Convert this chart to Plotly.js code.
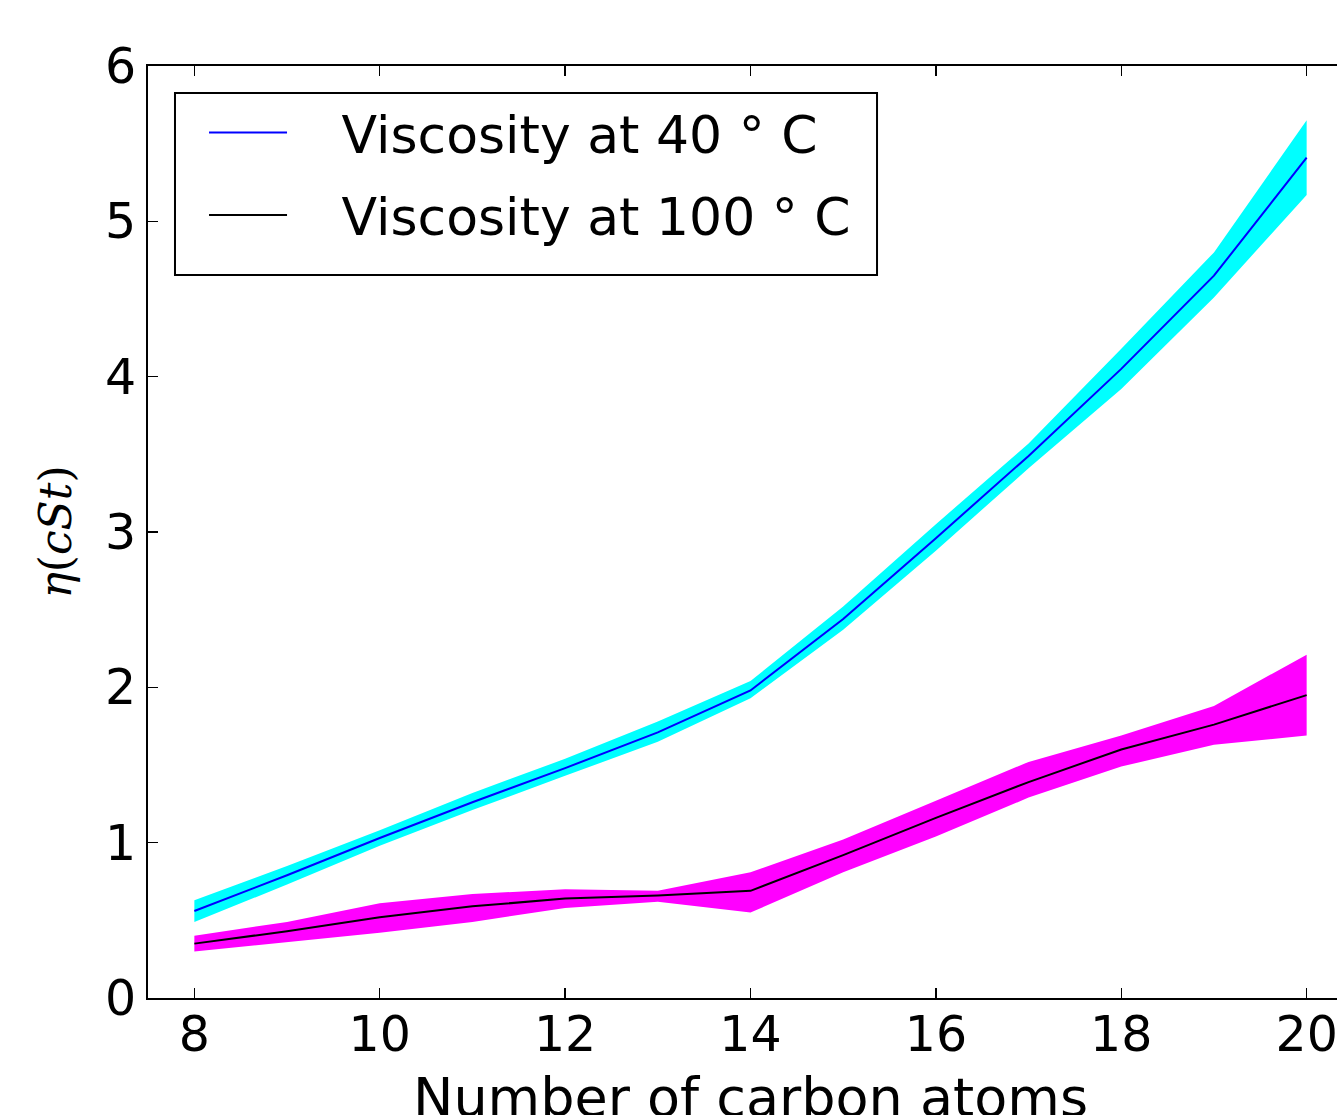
<!DOCTYPE html>
<html>
<head>
<meta charset="utf-8">
<script src="https://cdn.plot.ly/plotly-3.0.1.min.js"></script>
<style>
html,body{margin:0;padding:0;overflow:hidden;background:#fff;width:1337px;height:1115px;}
#chart{width:1400px;height:1150px;}
</style>
</head>
<body>
<div id="chart"></div>
<script>
// Data
const carbonAtoms = [8, 9, 10, 11, 12, 13, 14, 15, 16, 17, 18, 19, 20];
const visc40 = [0.56, 0.79, 1.03, 1.26, 1.48, 1.71, 1.98, 2.44, 2.96, 3.49, 4.05, 4.65, 5.41];
const visc40Upper = [0.63, 0.85, 1.08, 1.32, 1.54, 1.78, 2.04, 2.52, 3.05, 3.57, 4.18, 4.80, 5.65];
const visc40Lower = [0.49, 0.73, 0.98, 1.21, 1.43, 1.65, 1.93, 2.37, 2.88, 3.41, 3.92, 4.51, 5.17];
const visc100 = [0.35, 0.43, 0.52, 0.59, 0.64, 0.66, 0.69, 0.92, 1.16, 1.39, 1.60, 1.76, 1.95];
const visc100Upper = [0.40, 0.49, 0.61, 0.67, 0.70, 0.69, 0.81, 1.02, 1.27, 1.52, 1.69, 1.88, 2.21];
const visc100Lower = [0.30, 0.36, 0.42, 0.49, 0.58, 0.62, 0.55, 0.81, 1.04, 1.29, 1.49, 1.63, 1.69];
const xTicks = [8, 10, 12, 14, 16, 18, 20];
const yTicks = [0, 1, 2, 3, 4, 5, 6];
const seriesNames = ['Viscosity at 40 ° C', 'Viscosity at 100 ° C'];

const font = 'DejaVu Sans, sans-serif';
const pad = '\u00a0\u00a0\u00a0';

const traces = [
  {x: carbonAtoms, y: visc40Lower, mode: 'lines', line: {width: 0, color: '#00ffff'}, showlegend: false, hoverinfo: 'skip'},
  {x: carbonAtoms, y: visc40Upper, mode: 'lines', line: {width: 0, color: '#00ffff'}, fill: 'tonexty', fillcolor: '#00ffff', showlegend: false, hoverinfo: 'skip'},
  {x: carbonAtoms, y: visc100Lower, mode: 'lines', line: {width: 0, color: '#ff00ff'}, showlegend: false, hoverinfo: 'skip'},
  {x: carbonAtoms, y: visc100Upper, mode: 'lines', line: {width: 0, color: '#ff00ff'}, fill: 'tonexty', fillcolor: '#ff00ff', showlegend: false, hoverinfo: 'skip'},
  {x: carbonAtoms, y: visc40, mode: 'lines', name: pad + seriesNames[0], line: {color: '#0000ff', width: 2}, legendgroup: 'a'},
  {x: carbonAtoms, y: visc100, mode: 'lines', name: pad + seriesNames[1], line: {color: '#000000', width: 2}, legendgroup: 'b'}
];

const layout = {
  width: 1400, height: 1150,
  margin: {l: 148, r: 47, t: 66, b: 152},
  paper_bgcolor: '#fff', plot_bgcolor: '#fff',
  font: {family: font, color: '#000'},
  showlegend: true,
  legend: {
    x: 0.0465, y: 0.972, xanchor: 'left', yanchor: 'top',
    bgcolor: 'rgba(0,0,0,0)', borderwidth: 0,
    font: {family: font, size: 52, color: '#000'},
    tracegroupgap: 12, itemwidth: 78
  },
  shapes: [{
    type: 'rect', xref: 'paper', yref: 'paper',
    x0: 0.0224, x1: 0.605, y0: 0.7758, y1: 0.971,
    line: {color: '#000', width: 2}, fillcolor: '#fff', layer: 'above'
  }],
  xaxis: {
    range: [7.5, 20.5], tickvals: xTicks, ticktext: xTicks.map(String),
    ticks: 'inside', ticklen: 10, tickwidth: 1.5, tickcolor: '#000',
    showline: true, linecolor: '#000', linewidth: 2, mirror: 'ticks',
    showgrid: false, zeroline: false, ticklabelstandoff: -8,
    tickfont: {family: font, size: 49, color: '#000'},
    title: {text: 'Number of carbon atoms', font: {family: font, size: 54, color: '#000'}, standoff: 16}
  },
  yaxis: {
    range: [0, 6], tickvals: yTicks, ticktext: yTicks.map(String),
    ticks: 'inside', ticklen: 10, tickwidth: 1.5, tickcolor: '#000',
    showline: true, linecolor: '#000', linewidth: 2, mirror: 'ticks',
    showgrid: false, zeroline: false,
    tickfont: {family: font, size: 49, color: '#000'},
    title: {text: '<i>η</i>(<i>cSt</i>)', font: {family: 'DejaVu Serif, Liberation Serif, serif', size: 44, color: '#000'}, standoff: 20}
  }
};

Plotly.newPlot('chart', traces, layout, {displayModeBar: false, staticPlot: true});
</script>
</body>
</html>
